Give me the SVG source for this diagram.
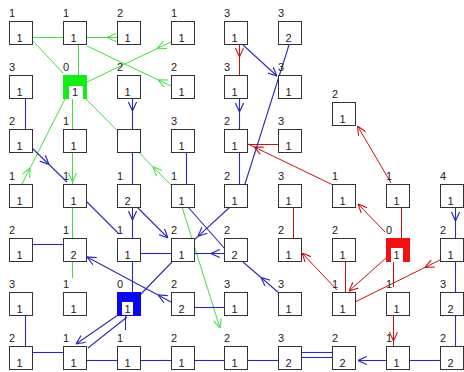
<svg xmlns="http://www.w3.org/2000/svg" width="464" height="372" viewBox="0 0 464 372">
<style>
.bg{fill:#fff}
.box{fill:#fff;stroke:#333;stroke-width:1}
.t{font-family:"Liberation Sans",Arial,sans-serif;font-size:11px;fill:#222}
.in{text-anchor:middle}
.g{stroke:#44dd44;stroke-width:1;fill:none}
.b{stroke:#2a2ab8;stroke-width:1.1;fill:none}
.r{stroke:#cc1111;stroke-width:1;fill:none}
.g.m{marker-mid:url(#ag)}.g.e{marker-end:url(#ag)}
.b.m{marker-mid:url(#ab)}.b.e{marker-end:url(#ab)}
.r.m{marker-mid:url(#ar)}.r.e{marker-end:url(#ar)}
</style>
<defs>
<marker id="ag" viewBox="0 0 10 10" refX="10" refY="5" markerWidth="9" markerHeight="9" markerUnits="userSpaceOnUse" orient="auto"><path d="M0,0.5 L10,5 L0,9.5" fill="none" stroke="#44dd44" stroke-width="1.2"/></marker>
<marker id="ab" viewBox="0 0 10 10" refX="10" refY="5" markerWidth="9" markerHeight="9" markerUnits="userSpaceOnUse" orient="auto"><path d="M0,0.5 L10,5 L0,9.5" fill="none" stroke="#2a2ab8" stroke-width="1.3"/></marker>
<marker id="ar" viewBox="0 0 10 10" refX="10" refY="5" markerWidth="9" markerHeight="9" markerUnits="userSpaceOnUse" orient="auto"><path d="M0,0.5 L10,5 L0,9.5" fill="none" stroke="#cc1111" stroke-width="1.2"/></marker>
</defs>
<rect class="bg" x="0" y="0" width="464" height="372"/>
<g id="connectors">
<!-- green -->
<path class="g" d="M33,37.5 L63,37.5"/>
<path class="g m" d="M117,37.5 L107,37.5 L87,37.5"/>
<path class="g" d="M78.5,45 L78.5,75"/>
<path class="g" d="M33,41 L63,73"/>
<path class="g m" d="M171,86 L158,79.8 L87,46"/>
<path class="g m" d="M171,42 L157,48.7 L87,82"/>
<path class="g m" d="M22,184 L30.1,168 L65,99"/>
<path class="g m" d="M72.5,99 L72.5,182 L72.5,278"/>
<path class="g m" d="M171,185 L153,166.8 L86,99"/>
<path class="g e" d="M182,207 L220,328"/>
<!-- red -->
<path class="r m" d="M239.5,45 L239.5,57 L239.5,75"/>
<path class="r" d="M278,144.5 L248,144.5"/>
<path class="r m" d="M333,185 L254,146.9 L248,144"/>
<path class="r e" d="M391,183 L357.5,126"/>
<path class="r" d="M401.5,207 L401.5,238"/>
<path class="r e" d="M385,232 L358,204"/>
<path class="r" d="M293.5,207 L293.5,238"/>
<path class="r e" d="M386,258 L349,291"/>
<path class="r" d="M345.5,261 L345.5,292"/>
<path class="r m" d="M440,260 L425,267.4 L355,302"/>
<path class="r e" d="M337,290 L302,253"/>
<path class="r" d="M393.5,261 L393.5,287"/>
<path class="r m" d="M393.5,315 L393.5,341 L393.5,346"/>
<!-- blue -->
<path class="b" d="M25.5,99 L25.5,129"/>
<path class="b m" d="M132.5,99 L132.5,111 L132.5,129"/>
<path class="b m" d="M32,148 L49,164.5 L67,182"/>
<path class="b" d="M86,201 L119,234"/>
<path class="b" d="M132.5,152 L132.5,184"/>
<path class="b m" d="M132.5,207 L132.5,220 L132.5,238"/>
<path class="b e" d="M137,207 L168,238"/>
<path class="b" d="M186.5,152 L186.5,184"/>
<path class="b" d="M188,207 L225,249"/>
<path class="b m" d="M239.5,99 L239.5,112 L239.5,129"/>
<path class="b" d="M239.5,152 L239.5,184"/>
<path class="b e" d="M243,45 L277,76"/>
<path class="b" d="M289,45 L245,184"/>
<path class="b m" d="M230,207 L198,236.3 L194,240"/>
<path class="b" d="M33,244.5 L63,244.5"/>
<path class="b m e" d="M171,302 L158,295 L87,257"/>
<path class="b" d="M140,253.5 L171,253.5"/>
<path class="b" d="M132.5,261 L132.5,292"/>
<path class="b" d="M172,262 L140,295"/>
<path class="b m" d="M224,253.5 L211,253.5 L194,253.5"/>
<path class="b m" d="M279,293 L261,277.5 L243,262"/>
<path class="b" d="M194,307.5 L224,307.5"/>
<path class="b e" d="M118,315 L76,344"/>
<path class="b" d="M127,317 L88,348"/>
<path class="b" d="M125.5,315 L125.5,330"/>
<path class="b" d="M25.5,315 L25.5,346"/>
<path class="b" d="M33,352.5 L63,352.5"/>
<path class="b" d="M87,360.5 L117,360.5"/>
<path class="b" d="M141,360.5 L171,360.5"/>
<path class="b" d="M195,360.5 L224,360.5"/>
<path class="b" d="M248,360.5 L278,360.5"/>
<path class="b" d="M302,352.5 L332,352.5"/>
<path class="b" d="M302,357.5 L332,357.5"/>
<path class="b e" d="M386,360.5 L358,360.5"/>
<path class="b" d="M410,360.5 L440,360.5"/>
<path class="b" d="M455.5,315 L455.5,346"/>
<path class="b" d="M455.5,261 L455.5,292"/>
<path class="b m" d="M455.5,207 L455.5,221 L455.5,238"/>
</g>
<g id="nodes">
<!-- row 0 -->
<g id="n0_0"><rect class="box" x="9.5" y="21.5" width="23" height="23"/><text class="t" x="9" y="17">1</text><text class="t in" x="19.5" y="42">1</text></g>
<g id="n0_1"><rect class="box" x="63.5" y="21.5" width="23" height="23"/><text class="t" x="63" y="17">1</text><text class="t in" x="73.5" y="42">1</text></g>
<g id="n0_2"><rect class="box" x="117.5" y="21.5" width="23" height="23"/><text class="t" x="117" y="17">2</text><text class="t in" x="127.5" y="42">1</text></g>
<g id="n0_3"><rect class="box" x="171.5" y="21.5" width="23" height="23"/><text class="t" x="171" y="17">1</text><text class="t in" x="181.5" y="42">1</text></g>
<g id="n0_4"><rect class="box" x="224.5" y="21.5" width="23" height="23"/><text class="t" x="224" y="17">3</text><text class="t in" x="234.5" y="42">1</text></g>
<g id="n0_5"><rect class="box" x="278.5" y="21.5" width="23" height="23"/><text class="t" x="278" y="17">3</text><text class="t in" x="288.5" y="42">2</text></g>
<!-- row 1 -->
<g id="n1_0"><rect class="box" x="9.5" y="75.5" width="23" height="23"/><text class="t" x="9" y="71">3</text><text class="t in" x="19.5" y="96">1</text></g>
<g id="n1_1"><rect x="63" y="75" width="24" height="24" fill="#14ec14"/><rect x="69" y="86" width="14" height="13" fill="#fff"/><text class="t" x="63" y="71">0</text><text class="t in" x="75" y="96">1</text></g>
<g id="n1_2"><rect class="box" x="117.5" y="75.5" width="23" height="23"/><text class="t" x="117" y="71">2</text><text class="t in" x="127.5" y="96">1</text></g>
<g id="n1_3"><rect class="box" x="171.5" y="75.5" width="23" height="23"/><text class="t" x="171" y="71">2</text><text class="t in" x="181.5" y="96">1</text></g>
<g id="n1_4"><rect class="box" x="224.5" y="75.5" width="23" height="23"/><text class="t" x="224" y="71">3</text><text class="t in" x="234.5" y="96">1</text></g>
<g id="n1_5"><rect class="box" x="278.5" y="75.5" width="23" height="23"/><text class="t" x="278" y="71">3</text><text class="t in" x="288.5" y="96">1</text></g>
<g id="n1b_6"><rect class="box" x="332.5" y="102.5" width="23" height="23"/><text class="t" x="332" y="98">2</text><text class="t in" x="342.5" y="123">1</text></g>
<!-- row 2 -->
<g id="n2_0"><rect class="box" x="9.5" y="129.5" width="23" height="23"/><text class="t" x="9" y="125">2</text><text class="t in" x="19.5" y="150">1</text></g>
<g id="n2_1"><rect class="box" x="63.5" y="129.5" width="23" height="23"/><text class="t" x="63" y="125">1</text><text class="t in" x="73.5" y="150">1</text></g>
<g id="n2_2"><rect class="box" x="117.5" y="129.5" width="23" height="23"/></g>
<g id="n2_3"><rect class="box" x="171.5" y="129.5" width="23" height="23"/><text class="t" x="171" y="125">3</text><text class="t in" x="181.5" y="150">1</text></g>
<g id="n2_4"><rect class="box" x="224.5" y="129.5" width="23" height="23"/><text class="t" x="224" y="125">2</text><text class="t in" x="234.5" y="150">1</text></g>
<g id="n2_5"><rect class="box" x="278.5" y="129.5" width="23" height="23"/><text class="t" x="278" y="125">3</text><text class="t in" x="288.5" y="150">1</text></g>
<!-- row 3 -->
<g id="n3_0"><rect class="box" x="9.5" y="184.5" width="23" height="23"/><text class="t" x="9" y="180">1</text><text class="t in" x="19.5" y="205">1</text></g>
<g id="n3_1"><rect class="box" x="63.5" y="184.5" width="23" height="23"/><text class="t" x="63" y="180">1</text><text class="t in" x="73.5" y="205">1</text></g>
<g id="n3_2"><rect class="box" x="117.5" y="184.5" width="23" height="23"/><text class="t" x="117" y="180">1</text><text class="t in" x="127.5" y="205">2</text></g>
<g id="n3_3"><rect class="box" x="171.5" y="184.5" width="23" height="23"/><text class="t" x="171" y="180">1</text><text class="t in" x="181.5" y="205">1</text></g>
<g id="n3_4"><rect class="box" x="224.5" y="184.5" width="23" height="23"/><text class="t" x="224" y="180">2</text><text class="t in" x="234.5" y="205">1</text></g>
<g id="n3_5"><rect class="box" x="278.5" y="184.5" width="23" height="23"/><text class="t" x="278" y="180">3</text><text class="t in" x="288.5" y="205">1</text></g>
<g id="n3_6"><rect class="box" x="332.5" y="184.5" width="23" height="23"/><text class="t" x="332" y="180">1</text><text class="t in" x="342.5" y="205">1</text></g>
<g id="n3_7"><rect class="box" x="386.5" y="184.5" width="23" height="23"/><text class="t" x="386" y="180">1</text><text class="t in" x="396.5" y="205">1</text></g>
<g id="n3_8"><rect class="box" x="440.5" y="184.5" width="23" height="23"/><text class="t" x="440" y="180">4</text><text class="t in" x="450.5" y="205">1</text></g>
<!-- row 4 -->
<g id="n4_0"><rect class="box" x="9.5" y="238.5" width="23" height="23"/><text class="t" x="9" y="234">2</text><text class="t in" x="19.5" y="259">1</text></g>
<g id="n4_1"><rect class="box" x="63.5" y="238.5" width="23" height="23"/><text class="t" x="63" y="234">1</text><text class="t in" x="73.5" y="259">2</text></g>
<g id="n4_2"><rect class="box" x="117.5" y="238.5" width="23" height="23"/><text class="t" x="117" y="234">1</text><text class="t in" x="127.5" y="259">1</text></g>
<g id="n4_3"><rect class="box" x="171.5" y="238.5" width="23" height="23"/><text class="t" x="171" y="234">2</text><text class="t in" x="181.5" y="259">1</text></g>
<g id="n4_4"><rect class="box" x="224.5" y="238.5" width="23" height="23"/><text class="t" x="224" y="234">2</text><text class="t in" x="234.5" y="259">2</text></g>
<g id="n4_5"><rect class="box" x="278.5" y="238.5" width="23" height="23"/><text class="t" x="278" y="234">2</text><text class="t in" x="288.5" y="259">1</text></g>
<g id="n4_6"><rect class="box" x="332.5" y="238.5" width="23" height="23"/><text class="t" x="332" y="234">2</text><text class="t in" x="342.5" y="259">1</text></g>
<g id="n4_7"><rect x="386" y="238" width="24" height="24" fill="#f21010"/><rect x="391" y="248" width="12" height="14" fill="#fff"/><text class="t" x="386" y="234">0</text><text class="t in" x="396.5" y="259">1</text></g>
<g id="n4_8"><rect class="box" x="440.5" y="238.5" width="23" height="23"/><text class="t" x="440" y="234">2</text><text class="t in" x="450.5" y="259">1</text></g>
<!-- row 5 -->
<g id="n5_0"><rect class="box" x="9.5" y="292.5" width="23" height="23"/><text class="t" x="9" y="288">3</text><text class="t in" x="19.5" y="313">1</text></g>
<g id="n5_1"><rect class="box" x="63.5" y="292.5" width="23" height="23"/><text class="t" x="63" y="288">1</text><text class="t in" x="73.5" y="313">1</text></g>
<g id="n5_2"><rect x="117" y="292" width="24" height="24" fill="#0808ee"/><rect x="122" y="302" width="11" height="13" fill="#fff"/><text class="t" x="117" y="288">0</text><text class="t in" x="127.5" y="313">1</text></g>
<g id="n5_3"><rect class="box" x="171.5" y="292.5" width="23" height="23"/><text class="t" x="171" y="288">2</text><text class="t in" x="181.5" y="313">2</text></g>
<g id="n5_4"><rect class="box" x="224.5" y="292.5" width="23" height="23"/><text class="t" x="224" y="288">3</text><text class="t in" x="234.5" y="313">1</text></g>
<g id="n5_5"><rect class="box" x="278.5" y="292.5" width="23" height="23"/><text class="t" x="278" y="288">3</text><text class="t in" x="288.5" y="313">1</text></g>
<g id="n5_6"><rect class="box" x="332.5" y="292.5" width="23" height="23"/><text class="t" x="332" y="288">1</text><text class="t in" x="342.5" y="313">1</text></g>
<g id="n5_7"><rect class="box" x="386.5" y="292.5" width="23" height="23"/><text class="t" x="386" y="288">1</text><text class="t in" x="396.5" y="313">1</text></g>
<g id="n5_8"><rect class="box" x="440.5" y="292.5" width="23" height="23"/><text class="t" x="440" y="288">3</text><text class="t in" x="450.5" y="313">2</text></g>
<!-- row 6 -->
<g id="n6_0"><rect class="box" x="9.5" y="346.5" width="23" height="23"/><text class="t" x="9" y="342">2</text><text class="t in" x="19.5" y="367">1</text></g>
<g id="n6_1"><rect class="box" x="63.5" y="346.5" width="23" height="23"/><text class="t" x="63" y="342">1</text><text class="t in" x="73.5" y="367">1</text></g>
<g id="n6_2"><rect class="box" x="117.5" y="346.5" width="23" height="23"/><text class="t" x="117" y="342">1</text><text class="t in" x="127.5" y="367">1</text></g>
<g id="n6_3"><rect class="box" x="171.5" y="346.5" width="23" height="23"/><text class="t" x="171" y="342">2</text><text class="t in" x="181.5" y="367">1</text></g>
<g id="n6_4"><rect class="box" x="224.5" y="346.5" width="23" height="23"/><text class="t" x="224" y="342">2</text><text class="t in" x="234.5" y="367">1</text></g>
<g id="n6_5"><rect class="box" x="278.5" y="346.5" width="23" height="23"/><text class="t" x="278" y="342">3</text><text class="t in" x="288.5" y="367">2</text></g>
<g id="n6_6"><rect class="box" x="332.5" y="346.5" width="23" height="23"/><text class="t" x="332" y="342">2</text><text class="t in" x="342.5" y="367">2</text></g>
<g id="n6_7"><rect class="box" x="386.5" y="346.5" width="23" height="23"/><text class="t" x="386" y="342">1</text><text class="t in" x="396.5" y="367">1</text></g>
<g id="n6_8"><rect class="box" x="440.5" y="346.5" width="23" height="23"/><text class="t" x="440" y="342">2</text><text class="t in" x="450.5" y="367">2</text></g>
</g>
</svg>
